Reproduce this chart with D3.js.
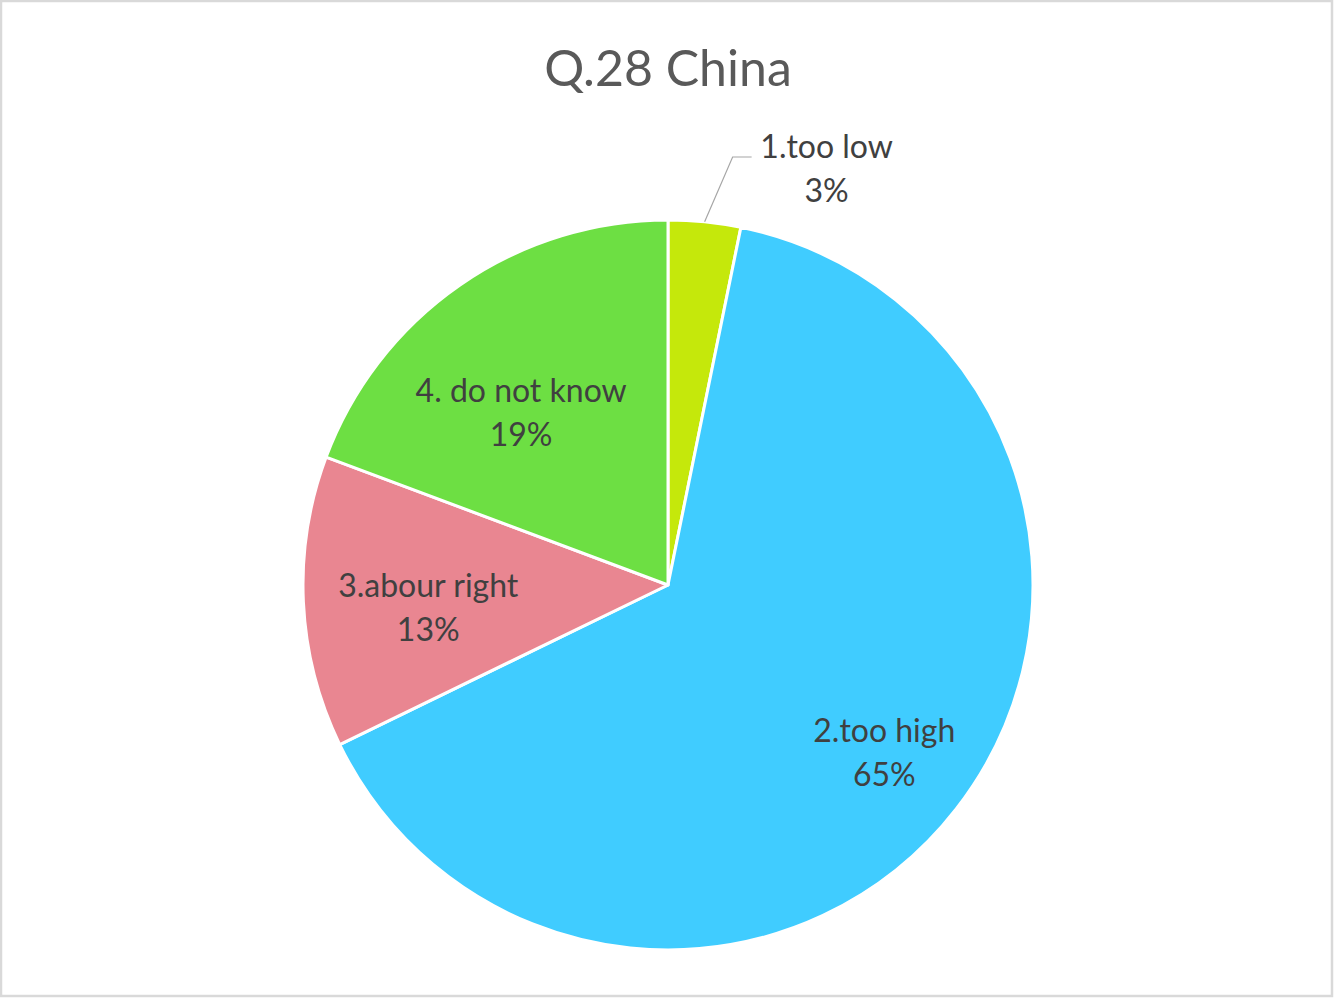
<!DOCTYPE html>
<html><head><meta charset="utf-8">
<script src="https://cdn.jsdelivr.net/npm/d3@7"></script>
<style>
html,body{margin:0;padding:0;background:#fff;}
svg{display:block;}
</style></head>
<body>
<svg id="chart" width="1334" height="998"></svg>
<script>
const title = "Q.28 China";
const categories = ["1.too low", "2.too high", "3.abour right", "4. do not know"];
const values = [3.2, 64.6, 12.9, 19.3];
const pctLabels = ["3%", "65%", "13%", "19%"];
const colors = ["#c5e80b", "#40ccff", "#e98691", "#6ddf43"];

const W = 1334, H = 998;
const svg = d3.select("#chart");
svg.append("rect").attr("x", 1).attr("y", 1).attr("width", W - 3).attr("height", H - 3)
  .attr("fill", "#fff").attr("stroke", "#d9d9d9").attr("stroke-width", 2.5);

const cx = 668, cy = 585, R = 365;
const g = svg.append("g").attr("transform", `translate(${cx},${cy})`);

const pie = d3.pie().sort(null).value(d => d.v);
const data = categories.map((c, i) => ({c, v: values[i], p: pctLabels[i], col: colors[i]}));
const arcs = pie(data);
const arc = d3.arc().innerRadius(0).outerRadius(R);

g.selectAll("path.slice").data(arcs).enter().append("path")
  .attr("class", "slice")
  .attr("d", arc)
  .attr("fill", d => d.data.col)
  .attr("stroke", "#fff").attr("stroke-width", 3).attr("stroke-linejoin", "round");

svg.append("text").attr("x", cx).attr("y", 86).attr("text-anchor", "middle")
  .attr("font-family", "Lato, 'Open Sans', sans-serif").attr("font-size", 50)
  .attr("fill", "#595959").text(title);

// label placement: fraction of radius for inside labels; outside for the small slice
const labelFrac = [null, 0.75, 0.66, 0.62];
const labelAngAdj = [0, 0, -0.05, -0.1];
const fontFam = "Lato, 'Open Sans', sans-serif";
const fs = 32;

arcs.forEach((a, i) => {
  const mid = (a.startAngle + a.endAngle) / 2;
  if (labelFrac[i] === null) {
    const p0 = [R * Math.sin(mid), -R * Math.cos(mid)];
    const p1 = [p0[0] + 28, -428];
    const p2 = [p1[0] + 19, -428];
    g.append("polyline").attr("points", [p0, p1, p2].map(p => p.join(",")).join(" "))
      .attr("fill", "none").attr("stroke", "#a6a6a6").attr("stroke-width", 1.2);
    const tx = p2[0] + 75;
    const t = g.append("text").attr("text-anchor", "middle").attr("font-family", fontFam)
      .attr("font-size", fs).attr("fill", "#404040");
    t.append("tspan").attr("x", tx).attr("y", -428 + 1).text(a.data.c);
    t.append("tspan").attr("x", tx).attr("y", -428 + 45).text(a.data.p);
  } else {
    const ang = mid + labelAngAdj[i];
    const r = R * labelFrac[i];
    const x = r * Math.sin(ang), y = -r * Math.cos(ang);
    const t = g.append("text").attr("text-anchor", "middle").attr("font-family", fontFam)
      .attr("font-size", fs).attr("fill", "#404040");
    t.append("tspan").attr("x", x).attr("y", y - 11).text(a.data.c);
    t.append("tspan").attr("x", x).attr("y", y + 33).text(a.data.p);
  }
});
</script>
</body></html>
